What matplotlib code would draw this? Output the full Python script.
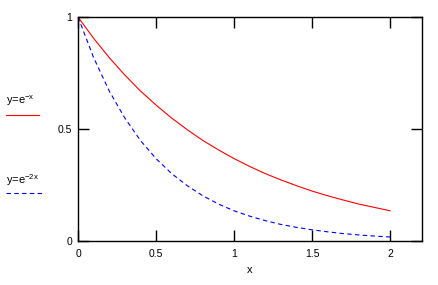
import numpy as np
import matplotlib
matplotlib.use('Agg')
import matplotlib.pyplot as plt
from matplotlib.lines import Line2D

plt.rcParams['font.family'] = ['Liberation Sans', 'DejaVu Sans']
plt.rcParams['mathtext.fontset'] = 'custom'
plt.rcParams['mathtext.rm'] = 'Liberation Sans'

# 数据: 读自图片的采样点
x_vals = [0.0, 0.1, 0.2, 0.3, 0.4, 0.5, 0.6, 0.7, 0.8, 0.9, 1.0,
          1.1, 1.2, 1.3, 1.4, 1.5, 1.6, 1.7, 1.8, 1.9, 2.0]
y_exp1 = [1.000, 0.905, 0.819, 0.741, 0.670, 0.607, 0.549, 0.497, 0.449, 0.407, 0.368,
          0.333, 0.301, 0.273, 0.247, 0.223, 0.202, 0.183, 0.165, 0.150, 0.135]
y_exp2 = [1.000, 0.819, 0.670, 0.549, 0.449, 0.368, 0.301, 0.247, 0.202, 0.165, 0.135,
          0.111, 0.091, 0.074, 0.061, 0.050, 0.041, 0.033, 0.027, 0.022, 0.018]
x_ticks = [0, 0.5, 1, 1.5, 2]
x_tick_labels = ['0', '0.5', '1', '1.5', '2']
y_ticks = [0, 0.5, 1]
y_tick_labels = ['0', '0.5', '1']

W, H = 438, 285
fig = plt.figure(figsize=(W / 100, H / 100), dpi=100)
ax = fig.add_axes([78 / W, 1 - 241 / H, 344 / W, 224 / H])

ax.plot(x_vals, y_exp1, color='red', linewidth=0.8)
ax.plot(x_vals, y_exp2, color='blue', linewidth=0.8, linestyle=(0, (4, 3)))

ax.set_xlim(0, 2.205)
ax.set_ylim(0, 1)
for s in ax.spines.values():
    s.set_linewidth(1.0)
    s.set_color('black')

ax.set_xticks(x_ticks)
ax.set_xticklabels(x_tick_labels)
ax.set_yticks(y_ticks)
ax.set_yticklabels(y_tick_labels)
ax.tick_params(axis='both', direction='in', length=8, width=1, labelsize=7.5,
               top=True, right=True)
ax.tick_params(axis='x', pad=6)
ax.tick_params(axis='y', pad=4)

fig.text(250 / W, 1 - 270 / H, 'x', fontsize=8, ha='center', va='center')

# 左侧图例
fig.text(6 / W, 1 - 101 / H, r'y=e$^{\mathrm{-x}}$', fontsize=8, ha='left', va='center')
fig.add_artist(Line2D([6 / W, 39 / W], [1 - 115 / H, 1 - 115 / H],
                      color='red', linewidth=0.8))
fig.text(6 / W, 1 - 180 / H, r'y=e$^{\mathrm{-2x}}$', fontsize=8, ha='left', va='center')
fig.add_artist(Line2D([6 / W, 45 / W], [1 - 193 / H, 1 - 193 / H],
                      color='blue', linewidth=0.8, linestyle=(0, (4, 3))))

fig.savefig('out.png', dpi=100)
